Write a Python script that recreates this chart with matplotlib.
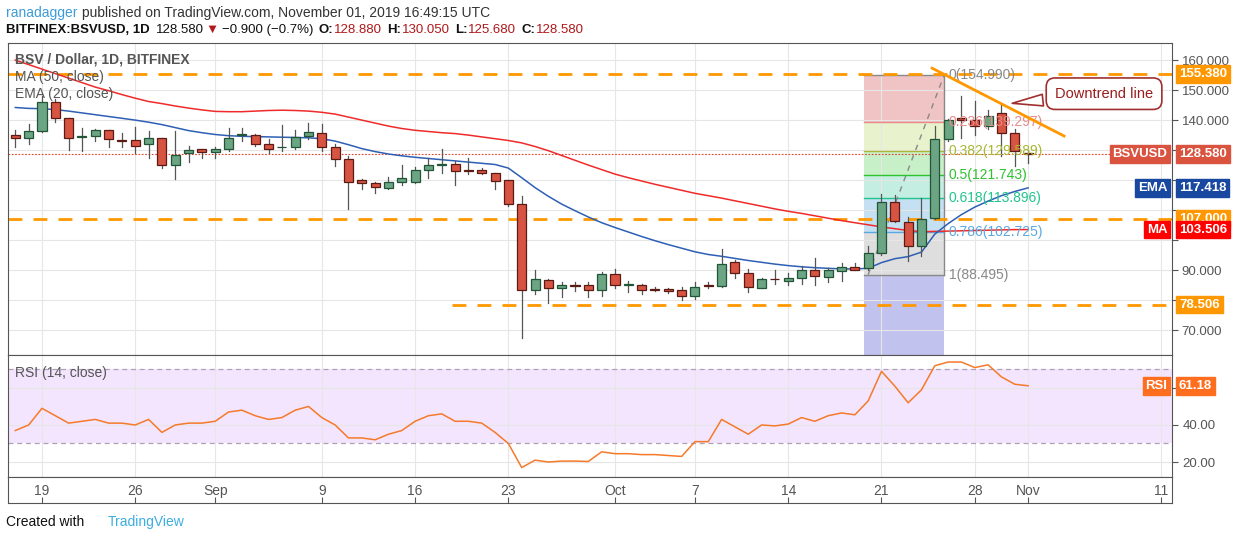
import numpy as np
import matplotlib
matplotlib.use("Agg")
import matplotlib.pyplot as plt
from matplotlib.patches import Rectangle
from matplotlib.transforms import blended_transform_factory as btf

# ---------------- data ----------------
opens = [135.2,133.9,136.4,145.9,140.6,134.5,134.7,136.6,133.3,133.3,131.9,133.9,125.2,128.9,130.3,
         129.5,130.5,135.0,135.2,132.2,130.9,131.1,134.8,135.6,131.1,126.9,119.9,118.9,117.5,119.4,
         119.4,123.3,125.2,125.5,123.3,123.5,122.5,120.2,111.9,83.3,86.7,83.9,85.0,85.2,83.3,
         88.6,85.2,85.2,83.7,83.6,83.5,81.4,85.0,84.8,92.8,89.1,84.2,87.2,86.4,87.3,
         90.0,87.8,89.6,90.9,90.6,95.6,112.8,106.1,98.2,107.5,133.6,140.6,140.2,138.0,142.4,
         135.6,128.88]
highs = [136.7,138.7,148.0,147.0,140.6,137.3,137.2,136.6,135.6,137.6,136.3,133.9,136.5,131.5,130.5,
         131.0,137.5,137.5,135.5,133.6,138.3,136.6,139.0,138.6,132.0,128.0,120.5,119.3,121.0,124.9,
         124.5,127.5,130.3,126.5,127.4,124.0,122.5,120.2,114.7,90.0,87.0,86.2,86.0,86.0,89.5,
         90.5,86.5,85.5,84.5,84.0,84.5,86.0,86.0,96.9,93.5,90.5,87.3,90.2,89.0,91.5,
         94.0,90.8,92.5,92.5,98.0,115.3,115.0,107.8,113.9,138.0,140.5,148.0,146.3,143.5,145.0,
         137.0,130.05]
lows = [131.1,132.2,136.0,139.5,130.0,129.8,133.0,131.0,131.0,129.1,127.4,124.0,120.4,126.0,127.5,
        127.3,129.7,133.0,131.4,129.0,129.7,130.5,133.6,129.7,124.8,110.5,117.0,115.8,117.0,118.5,
        119.0,120.8,122.4,118.5,122.0,122.0,117.0,111.5,67.5,82.0,79.0,81.0,83.0,81.0,81.5,
        84.0,82.8,82.0,83.0,82.5,80.0,80.5,84.0,84.5,87.5,82.8,84.0,85.5,85.0,85.5,
        85.2,86.0,86.5,90.0,90.2,95.0,106.0,93.0,94.8,107.0,133.0,134.0,135.0,137.0,128.0,
        124.8,125.68]
closes = [133.9,136.3,145.9,140.6,134.2,134.8,136.6,133.6,133.0,131.4,133.9,125.2,128.3,130.2,129.5,
          130.5,134.1,135.2,132.2,130.5,131.2,134.5,135.9,131.1,126.9,119.4,118.9,117.8,119.4,120.6,
          123.3,125.2,125.5,123.1,123.1,122.4,119.7,111.9,83.3,86.9,84.2,84.9,84.8,83.5,88.6,
          85.2,85.5,83.5,83.3,83.2,81.4,84.4,84.8,92.2,88.9,84.4,87.1,86.9,87.5,90.0,
          88.2,90.0,90.9,90.2,95.6,112.8,106.4,98.2,106.9,133.6,140.2,140.2,138.0,141.3,135.6,
          129.7,128.58]
ma50 = [160,158.5,157,155.5,154,152.5,151,149.8,148.5,147.3,146.2,145.5,144.7,144,143.4,
        142.9,142.8,142.8,143,143.2,143.3,143.2,143,142.6,142,141,140,139,138,137.2,
        136.6,136.2,135.8,135.5,135,134.4,133.8,133.2,132.4,131.2,129.8,128.2,126.6,125,123.5,
        122,120.8,119.7,118.6,117.6,116.6,115.6,114.8,114,113.1,112.2,111.3,110.4,109.6,108.9,
        108.1,107.3,106.5,105.8,105.1,104.4,103.8,103.2,102.8,102.9,103,103.1,103.2,103.3,103.4,
        103.5,103.506]
ema20 = [144.2,143.9,143.8,143.5,143,142.4,141.8,141.2,140.6,140,139.3,138.5,137.5,136.5,135.8,
         135.2,134.8,134.6,134.5,134.4,134.3,134.2,134.1,133.8,133,131.8,130.5,129.5,128.7,128.1,
         127.6,127.2,126.8,126.4,126,125.6,125.2,124,120.8,117.5,114.6,112,109.8,107.7,105.8,
         104.2,102.7,101.2,99.8,98.5,97.3,96.1,95.2,94.6,93.9,93.2,92.6,92,91.5,91.1,
         90.8,90.6,90.4,90.4,90.6,92.5,93.8,94.5,96,102,105.5,108.5,111,113,114.8,
         116.2,117.418]
rsi = [37,40,49,45,41,42,43,41,41,40,43,36,40,41,41,
       42,47,48,45,43,44,48,50,44,40,33,33,32,35,37,
       42,45,46,42,42,41,36,30,17,21,20,20.5,20.5,20.3,25.5,
       24.5,24.5,24,24,23.5,23,31,31,43,39,35,40,39.5,40.5,44,
       42,45,46.5,45.5,53,69,61,52,59,72,74,74,71,72.5,66,
       62,61.18]
tick_days = [2,9,15,23,30,37,45,51,58,65,72,76,86]
tick_labels = ["19","26","Sep","9","16","23","Oct","7","14","21","28","Nov","11"]
price_ticks = [70,80,90,100,110,120,130,140,150,160]
price_tick_labels = ["70.000","","90.000","","","","","140.000","150.000","160.000"]
fib_ratios = [0,0.236,0.382,0.5,0.618,0.786,1]
fib_high, fib_low = 154.990, 88.495
hlines = [155.380,107.000]
support = 78.506
last_price, ema_last, ma_last, rsi_last = 128.580, 117.418, 103.506, 61.18

# ---------------- figure ----------------
W, H = 1234, 540
plt.rcParams['font.family'] = 'Liberation Sans'
fig = plt.figure(figsize=(W/100, H/100), dpi=100)
def rect(l, t, r, b):
    return [l/W, 1-b/H, (r-l)/W, (b-t)/H]

GRID = '#e6e6e6'
SP = '#555555'
ax = fig.add_axes(rect(8, 43, 1172, 355))
rx = fig.add_axes(rect(8, 355, 1172, 477))
dx = fig.add_axes(rect(8, 477, 1172, 503))
for a in (ax, rx, dx):
    for s in a.spines.values():
        s.set_color(SP)
xl = (-0.55, 86.8)
x = np.arange(len(closes))

# main panel
ax.set_xlim(*xl); ax.set_ylim(61.7, 165.7)
ax.yaxis.tick_right()
ax.set_yticks(price_ticks)
ax.set_yticklabels(price_tick_labels, color='#555', fontsize=9.5)
ax.tick_params(axis='y', length=4, color=SP, pad=3)
ax.set_xticks(tick_days); ax.tick_params(axis='x', length=0, labelbottom=False)
ax.grid(True, color=GRID, lw=0.8, zorder=0)
ax.set_axisbelow(True)

# fib zone
fl, fr = 63.7, 69.7
fib_vals = [fib_high - r*(fib_high-fib_low) for r in fib_ratios]
band_cols = ['#f0c4c4', '#e8f2cc', '#c8f0c8', '#c4eee2', '#c4e0f2', '#dedede']
for i in range(6):
    ax.add_patch(Rectangle((fl, fib_vals[i+1]), fr-fl, fib_vals[i]-fib_vals[i+1], color=band_cols[i], lw=0, zorder=0.5))
ax.add_patch(Rectangle((fl, 61.7), fr-fl, fib_low-61.7, color='#c2c2ee', lw=0, zorder=0.5))
lvl_cols = ['#888888', '#e88a8a', '#a8b832', '#2ec22e', '#22c48e', '#5aa8e0', '#888888']
for i, r in enumerate(fib_ratios):
    ax.plot([fl, fr], [fib_vals[i]]*2, color=lvl_cols[i], lw=1, zorder=0.6)
    lab = f"{r:g}({fib_vals[i]:.3f})" if r not in (0, 1) else f"{int(r)}({fib_vals[i]:.3f})"
    ax.text(fr+0.35, fib_vals[i], lab, color=lvl_cols[i], fontsize=10, va='center', zorder=5)
ax.plot([fl+0.3, fr], [fib_low, fib_high], color='#888', lw=1, ls=(0, (4, 4)), zorder=0.7)
ax.plot([fr, fr], [fib_low, fib_high], color='#888', lw=1, zorder=0.7)

# horizontal levels
for v in hlines:
    ax.axhline(v, color='#ff9800', lw=2, ls=(0, (5, 4)), zorder=1)
ax.plot([32.8, xl[1]], [support]*2, color='#ff9800', lw=2, ls=(0, (5, 4)), zorder=1)
ax.axhline(last_price, color='#e0402a', lw=0.8, ls=(0, (1.5, 1.5)), zorder=1)

# indicators
ax.plot(x, ma50, color='#f02a2a', lw=1.1, zorder=2)
ax.plot(x, ema20, color='#2d5fb5', lw=1.1, zorder=2)

# candles
for i in x:
    o, h, l, c = opens[i], highs[i], lows[i], closes[i]
    up = c >= o
    ax.plot([i, i], [l, h], color='#555', lw=0.9, zorder=3)
    fc = '#6ba583' if up else '#d75442'
    ec = '#225437' if up else '#5b1a13'
    ax.add_patch(Rectangle((i-0.34, min(o, c)), 0.68, max(abs(c-o), 0.25), fc=fc, ec=ec, lw=0.9, zorder=4))

# downtrend line
ax.plot([68.8, 78.7], [157.3, 134.7], color='#ff9800', lw=2, zorder=5)
ax.annotate("Downtrend line", xy=(74.6, 145.5), xytext=(81.7, 148.8), fontsize=10.5,
            color='#9b1c1c', ha='center', va='center', zorder=6,
            bbox=dict(boxstyle='round,pad=0.6,rounding_size=0.6', fc='white', ec='#a03030', lw=1.2),
            arrowprops=dict(arrowstyle='wedge,tail_width=0.8', fc='white', ec='#a03030', lw=1.2))

# legend texts
for j, t in enumerate(["BSV / Dollar, 1D, BITFINEX", "MA (50, close)", "EMA (20, close)"]):
    ax.text(7/1164, 1-(17+17*j)/312, t, transform=ax.transAxes, color='#555',
            fontsize=10, fontweight='bold' if j == 0 else 'normal', va='center', zorder=6)

# price boxes
tr = btf(ax.transAxes, ax.transData)
def pbox(axis, trf, y, txt, col, xpos=1.006, ha='left'):
    axis.text(xpos, y, txt, transform=trf, color='white', fontsize=9.5, fontweight='bold',
              va='center', ha=ha, zorder=10, clip_on=False,
              bbox=dict(boxstyle='square,pad=0.22', fc=col, ec=col))
pbox(ax, tr, 155.380, "155.380", '#ff9800')
pbox(ax, tr, last_price, "128.580", '#d9533f')
pbox(ax, tr, last_price, "BSVUSD", '#d9533f', 0.996, 'right')
pbox(ax, tr, ema_last, "117.418", '#1848a0')
pbox(ax, tr, ema_last, "EMA", '#1848a0', 0.996, 'right')
pbox(ax, tr, 107.0, "107.000", '#ff9800')
pbox(ax, tr, ma_last, "103.506", '#ff0000')
pbox(ax, tr, ma_last, "MA", '#ff0000', 0.996, 'right')
pbox(ax, tr, support, "78.506", '#ff9800')

# RSI panel
rx.set_xlim(*xl); rx.set_ylim(11.9, 77.8)
rx.axhspan(30, 70, color='#f3e5fd', lw=0, zorder=0)
for v in (30, 70):
    rx.axhline(v, color='#b0a0b8', lw=0.9, ls=(0, (4, 3)), zorder=1)
rx.yaxis.tick_right()
rx.set_yticks([20, 40, 60])
rx.set_yticklabels(["20.00", "40.00", ""], color='#555', fontsize=9.5)
rx.tick_params(axis='y', length=4, color=SP)
rx.set_xticks(tick_days); rx.tick_params(axis='x', length=0, labelbottom=False)
rx.grid(True, color=GRID, lw=0.8, zorder=0.5)
rx.set_axisbelow(True)
rx.plot(x, rsi, color='#f57a2a', lw=1.1, zorder=3)
rx.text(7/1164, 1-18/122, "RSI (14, close)", transform=rx.transAxes, color='#555', fontsize=10, va='center')
trr = btf(rx.transAxes, rx.transData)
pbox(rx, trr, rsi_last, "61.18", '#ff6d1f')
pbox(rx, trr, rsi_last, "RSI", '#ff6d1f', 0.996, 'right')

# date axis
dx.set_xlim(*xl); dx.set_ylim(0, 1)
dx.set_yticks([])
dx.set_xticks(tick_days)
dx.tick_params(axis='x', direction='in', length=4, color=SP, labelbottom=False)
for d, t in zip(tick_days, tick_labels):
    dx.text(d, 0.45, t, ha='center', va='center', color='#555', fontsize=10)

# header: chained text pieces
renderer = fig.canvas.get_renderer()
def chain(px, py, pieces, fs=10):
    cur = px
    for s, col, bold, gap in pieces:
        t = fig.text(cur/W, 1-py/H, s, va='center', color=col, fontsize=fs,
                     fontweight='bold' if bold else 'normal')
        cur = t.get_window_extent(renderer).x1 + gap
chain(6, 13, [("ranadagger", '#3d9cd8', False, 4),
              ("published on TradingView.com, November 01, 2019 16:49:15 UTC", '#333', False, 0)])
R = '#b0181a'
chain(6, 30, [("BITFINEX:BSVUSD, 1D", '#111', True, 6), ("128.580", '#111', False, 2),
              ("▼", R, False, 3), ("−0.900 (−0.7%)", '#111', False, 5),
              ("O:", '#111', True, 1), ("128.880", R, False, 5),
              ("H:", '#111', True, 1), ("130.050", R, False, 5),
              ("L:", '#111', True, 1), ("125.680", R, False, 5),
              ("C:", '#111', True, 1), ("128.580", R, False, 0)], fs=9.5)
chain(6, 522, [("Created with", '#111', False, 24), ("TradingView", '#3daee0', False, 0)])

fig.savefig("out.png", dpi=100)
